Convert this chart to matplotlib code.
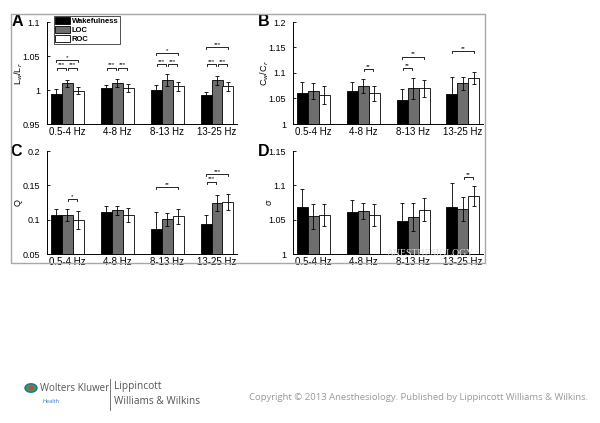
import matplotlib
matplotlib.use("Agg")
import matplotlib.pyplot as plt
from matplotlib.patches import Rectangle, Circle
from matplotlib.lines import Line2D
import numpy as np

plt.rcParams['font.family'] = ['Liberation Sans', 'DejaVu Sans']

bands = ["0.5-4 Hz", "4-8 Hz", "8-13 Hz", "13-25 Hz"]
conditions = ["Wakefulness", "LOC", "ROC"]

# Panel A: Lw/Lr
A_vals = [[0.9936, 1.0034, 0.9995, 0.9931],
          [1.0098, 1.0098, 1.0147, 1.0142],
          [0.9990, 1.0025, 1.0054, 1.0054]]
A_err = [[0.008, 0.004, 0.008, 0.004],
         [0.005, 0.006, 0.009, 0.0066],
         [0.005, 0.006, 0.0065, 0.0064]]
# Panel B: Cw/Cr
B_vals = [[1.0612, 1.065, 1.048, 1.0586],
          [1.0645, 1.0743, 1.0697, 1.0795],
          [1.0567, 1.060, 1.0697, 1.090]]
B_err = [[0.021, 0.017, 0.021, 0.034],
         [0.016, 0.014, 0.021, 0.013],
         [0.018, 0.015, 0.016, 0.0125]]
# Panel C: Q
C_vals = [[0.1068, 0.1117, 0.0869, 0.0932],
          [0.1068, 0.1136, 0.1005, 0.1243],
          [0.0990, 0.1068, 0.1049, 0.1252]]
C_err = [[0.0085, 0.0085, 0.024, 0.013],
         [0.0087, 0.007, 0.009, 0.012],
         [0.0129, 0.010, 0.011, 0.0117]]
# Panel D: sigma
D_vals = [[1.0679, 1.0615, 1.048, 1.0679],
          [1.0551, 1.063, 1.054, 1.0654],
          [1.0575, 1.0575, 1.0644, 1.0846]]
D_err = [[0.027, 0.017, 0.026, 0.035],
         [0.018, 0.012, 0.020, 0.0175],
         [0.016, 0.016, 0.017, 0.014]]

# significance brackets: (band index, cond i, cond j, y, label)
A_sig = [(0, 0, 2, 1.044, "*"), (0, 0, 1, 1.033, "***"), (0, 1, 2, 1.033, "***"),
         (1, 0, 1, 1.033, "***"), (1, 1, 2, 1.033, "***"),
         (2, 0, 2, 1.054, "*"), (2, 0, 1, 1.038, "***"), (2, 1, 2, 1.038, "***"),
         (3, 0, 2, 1.063, "***"), (3, 0, 1, 1.038, "***"), (3, 1, 2, 1.038, "***")]
B_sig = [(1, 1, 2, 1.107, "**"), (2, 0, 1, 1.109, "**"), (2, 0, 2, 1.1316, "**"),
         (3, 0, 2, 1.143, "**")]
C_sig = [(0, 1, 2, 0.1296, "*"), (2, 0, 2, 0.147, "**"), (3, 0, 1, 0.1553, "***"),
         (3, 0, 2, 0.1665, "***")]
D_sig = [(3, 1, 2, 1.112, "**")]

colors = ["black", "#6e6e6e", "white"]
W, H = 600, 423
fig = plt.figure(figsize=(W / 100, H / 100), dpi=100)

def rect(l, r, t, b):
    return [l / W, 1 - b / H, (r - l) / W, (b - t) / H]

# outer frame
fig.add_artist(Rectangle((11 / W, 1 - 263 / H), (485 - 11) / W, (263 - 14) / H,
                         transform=fig.transFigure, fill=False, ec="#a8a8a8", lw=1.0))

bw = 0.22

def panel(pos, vals, errs, sigs, ylim, yticks, yticklabels, ylabel, letter,
          label_x, letter_x, legend=False):
    ax = fig.add_axes(pos)
    x = np.arange(1, len(bands) + 1)
    for k in range(3):
        xs = x + (k - 1) * bw
        ax.bar(xs, vals[k], bw, color=colors[k], edgecolor="black", lw=0.6,
               label=conditions[k], zorder=2)
        ax.errorbar(xs, vals[k], yerr=errs[k], fmt="none", ecolor="black",
                    elinewidth=0.6, capsize=1.5, capthick=0.6, zorder=3)
    span = ylim[1] - ylim[0]
    tick = span * 0.02
    for (g, i, j, y, lab) in sigs:
        xi = x[g] + (i - 1) * bw
        xj = x[g] + (j - 1) * bw
        inset = 0.015 if j - i == 1 else 0.0
        xi += inset
        xj -= inset
        ax.plot([xi, xi, xj, xj], [y - tick, y, y, y - tick], color="black", lw=0.6,
                zorder=4, clip_on=False)
        ax.text((xi + xj) / 2, y + span * 0.004, lab, ha="center", va="bottom",
                fontsize=4.5, zorder=4)
    ax.set_xlim(0.6, 4.4)
    ax.set_ylim(*ylim)
    ax.set_yticks(yticks)
    ax.set_yticklabels(yticklabels)
    ax.set_xticks(x)
    ax.set_xticklabels(bands)
    ax.tick_params(axis="x", length=0, labelsize=7, pad=2)
    ax.tick_params(axis="y", direction="in", length=2, labelsize=6.5, pad=5, width=0.6)
    for s in ["top", "right"]:
        ax.spines[s].set_visible(False)
    for s in ["left", "bottom"]:
        ax.spines[s].set_linewidth(0.7)
    ax.set_ylabel(ylabel, fontsize=6.5)
    ax.yaxis.set_label_coords(label_x, 0.5)
    ax.text(letter_x, 1.0, letter, transform=ax.transAxes, fontsize=11.5,
            fontweight="bold", ha="left", va="center")
    if legend:
        leg = ax.legend(loc="upper left", bbox_to_anchor=(0.037, 1.06), fontsize=5.5,
                        frameon=True, fancybox=False, edgecolor="black",
                        handlelength=2.0, handleheight=1.0, borderpad=0.15,
                        labelspacing=0.12, handletextpad=0.2, borderaxespad=0.0)
        leg.get_frame().set_linewidth(0.6)
        for t in leg.get_texts():
            t.set_fontweight("bold")
    return ax

panel(rect(47, 237, 22, 124), A_vals, A_err, A_sig, (0.95, 1.1),
      [0.95, 1.0, 1.05, 1.1], ["0.95", "1", "1.05", "1.1"], r"L$_w$/L$_r$", "A",
      -0.115, -0.185, legend=True)
panel(rect(293, 483, 22, 124), B_vals, B_err, B_sig, (1.0, 1.2),
      [1.0, 1.05, 1.1, 1.15, 1.2], ["1", "1.05", "1.1", "1.15", "1.2"], r"C$_w$/C$_r$", "B",
      -0.115, -0.185)
panel(rect(47, 237, 151, 254), C_vals, C_err, C_sig, (0.05, 0.2),
      [0.05, 0.1, 0.15, 0.2], ["0.05", "0.1", "0.15", "0.2"], "Q", "C",
      -0.13, -0.195)
panel(rect(293, 483, 151, 254), D_vals, D_err, D_sig, (1.0, 1.15),
      [1.0, 1.05, 1.1, 1.15], ["1", "1.05", "1.1", "1.15"], "σ", "D",
      -0.10, -0.185)

# faint watermark
fig.text(430 / W, 1 - 254 / H, "ANESTHESIOLOGY", fontsize=7, color="#e0e0e0",
         ha="center", va="center", family="Liberation Serif", zorder=0)

# footer
fig.add_artist(Circle((31 / W, 1 - 388 / H), 6 / W, transform=fig.transFigure,
                      fc="#3a9a4a", ec="#2a6aa0", lw=1.0))
fig.add_artist(Circle((31 / W, 1 - 388 / H), 2.5 / W, transform=fig.transFigure,
                      fc="#d23b5a", ec="none"))
fig.text(40 / W, 1 - 388 / H, "Wolters Kluwer", fontsize=7, color="#555555",
         ha="left", va="center", family="Open Sans")
fig.text(42 / W, 1 - 401 / H, "Health", fontsize=4, color="#2e6fb5",
         ha="left", va="center", family="Open Sans")
fig.add_artist(Line2D([109.5 / W, 109.5 / W], [1 - 379 / H, 1 - 410 / H],
                      transform=fig.transFigure, color="#777777", lw=0.7))
fig.text(114 / W, 1 - 386 / H, "Lippincott", fontsize=7.3, color="#555555",
         ha="left", va="center", family="Open Sans")
fig.text(114 / W, 1 - 401 / H, "Williams & Wilkins", fontsize=7.3, color="#555555",
         ha="left", va="center", family="Open Sans")
fig.text(588 / W, 1 - 397 / H,
         "Copyright © 2013 Anesthesiology. Published by Lippincott Williams & Wilkins.",
         fontsize=6.8, color="#999999", ha="right", va="center", family="Open Sans")

fig.savefig("out.png", dpi=100, facecolor="white")
